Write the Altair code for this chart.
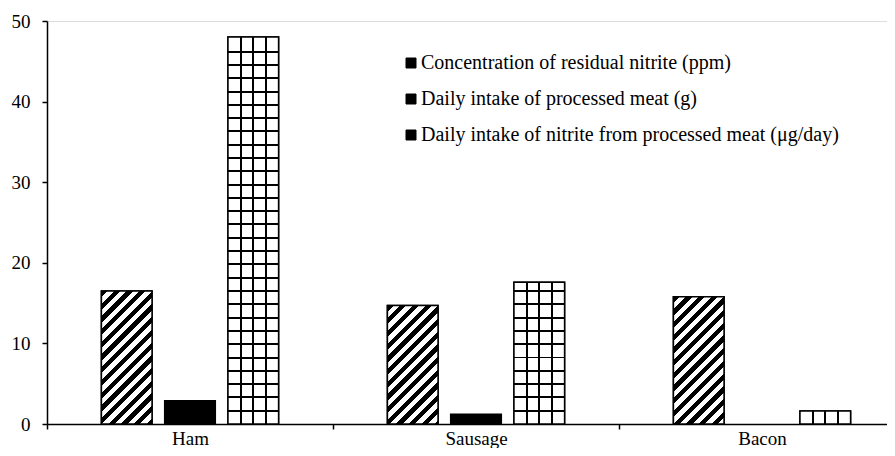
import altair as alt
import pandas as pd

# ---- data ----
categories = ["Ham", "Sausage", "Bacon"]
series = [
    "Concentration of residual nitrite (ppm)",
    "Daily intake of processed meat (g)",
    "Daily intake of nitrite from processed meat (μg/day)",
]
residual_nitrite = [16.5, 14.7, 15.8]
meat_intake = [2.9, 1.2, 0.0]
nitrite_intake = [48.0, 17.6, 1.6]
y_ticks = [0, 10, 20, 30, 40, 50]

# ---- layout / style ----
BAND = 286                        # width of one category band (px)
RANGE_W = BAND * len(categories)  # full category range (runs past the right edge)
PLOT_W = 840                      # visible plot width
PLOT_H = 403
Y_MAX = 50
PAD_INNER = 0.2
PAD_OUTER = 0.86
STEP = BAND / (len(series) - PAD_INNER + 2 * PAD_OUTER)
BAR_W = STEP * (1 - PAD_INNER)
PX_PER_UNIT = PLOT_H / Y_MAX
FONT = "Liberation Serif"

rows = []
for i, c in enumerate(categories):
    for s, vals in zip(series, [residual_nitrite, meat_intake, nitrite_intake]):
        rows.append({"category": c, "series": s, "value": vals[i]})
df = pd.DataFrame(rows)


def _r(v):
    return round(min(max(v, 0.0), 1.0), 5)


def hatch_fill(w, h, period=12.7, dark=6.3):
    """Diagonal '////' hatch as a hard-stop linear gradient (45 deg in pixels)."""
    span = w + h
    stops = []
    c = 0.0
    while c < span:
        a, b = _r(c / span), _r((c + dark) / span)
        stops += [
            {"offset": a, "color": "white"},
            {"offset": a, "color": "black"},
            {"offset": b, "color": "black"},
            {"offset": b, "color": "white"},
        ]
        c += period
    stops.append({"offset": 1, "color": "white"})
    k = span / (w * w + h * h)
    return {"gradient": "linear", "x1": 0, "y1": 0, "x2": round(w * k, 5),
            "y2": round(h * k, 5), "stops": stops}


def rows_fill(h, period=13.3, thick=2.0):
    """Horizontal grid lines, anchored at the bar's base."""
    ys = []
    y = h - period
    while y > thick:
        ys.append(y)
        y -= period
    out = [{"offset": 0, "color": "white"}]
    for y in sorted(ys):
        a, b = _r((y - thick / 2) / h), _r((y + thick / 2) / h)
        out += [{"offset": a, "color": "white"}, {"offset": a, "color": "black"},
                {"offset": b, "color": "black"}, {"offset": b, "color": "white"}]
    out.append({"offset": 1, "color": "white"})
    return {"gradient": "linear", "x1": 0, "y1": 0, "x2": 0, "y2": 1, "stops": out}


def cols_fill(w, ncells=4, thick=2.0):
    """Vertical grid lines on a transparent background."""
    clear = "rgba(255,255,255,0)"
    out = [{"offset": 0, "color": clear}]
    p = w / ncells
    for k in range(1, ncells):
        x = k * p
        a, b = _r((x - thick / 2) / w), _r((x + thick / 2) / w)
        out += [{"offset": a, "color": clear}, {"offset": a, "color": "black"},
                {"offset": b, "color": "black"}, {"offset": b, "color": clear}]
    out.append({"offset": 1, "color": clear})
    return {"gradient": "linear", "x1": 0, "y1": 0, "x2": 1, "y2": 0, "stops": out}


x_enc = alt.X(
    "category:N", sort=categories, title=None,
    scale=alt.Scale(paddingInner=0, paddingOuter=0, range=[0, RANGE_W]),
    axis=alt.Axis(labelAngle=0, tickBand="extent", tickSize=5, tickColor="black",
                  domainColor="black", domainWidth=1.5, tickWidth=1.5,
                  labelFont=FONT, labelFontSize=19, labelColor="black",
                  labelPadding=0, grid=False),
)
xo_enc = alt.XOffset("series:N", sort=series,
                     scale=alt.Scale(paddingInner=PAD_INNER, paddingOuter=PAD_OUTER))
y_enc = alt.Y(
    "value:Q", stack=None, title=None,
    scale=alt.Scale(domain=[0, Y_MAX], nice=False),
    axis=alt.Axis(values=y_ticks, tickSize=5, tickColor="black", tickWidth=1.5,
                  domainColor="black", domainWidth=1.5, labelFont=FONT,
                  labelFontSize=19, labelColor="black", labelPadding=12, grid=False),
)

base = alt.Chart(df).transform_filter(alt.datum.value > 0).mark_bar(
    stroke="black", strokeWidth=1.5
).encode(
    x=x_enc, xOffset=xo_enc, y=y_enc,
    color=alt.Color(
        "series:N", sort=series,
        scale=alt.Scale(domain=series, range=["black", "black", "black"]),
        legend=alt.Legend(
            title=None, orient="none", legendX=354, legendY=32, symbolType="square",
            symbolSize=100, symbolStrokeColor="black", symbolStrokeWidth=1,
            symbolOpacity=1, labelFont=FONT, labelFontSize=20, labelColor="black",
            rowPadding=16, labelOffset=0, padding=0, labelLimit=0,
        ),
    ),
)

layers = [base]
for i, c in enumerate(categories):
    for s, vals in [(series[0], residual_nitrite), (series[2], nitrite_intake)]:
        v = vals[i]
        if v <= 0:
            continue
        h = v * PX_PER_UNIT
        filt = (alt.datum.category == c) & (alt.datum.series == s)
        enc = dict(x=x_enc, xOffset=xo_enc, y=y_enc)
        if s == series[0]:
            layers.append(
                alt.Chart(df).transform_filter(filt)
                .mark_bar(fill=hatch_fill(BAR_W, h), stroke="black", strokeWidth=1.5)
                .encode(**enc)
            )
        else:
            layers.append(
                alt.Chart(df).transform_filter(filt)
                .mark_bar(fill=rows_fill(h), strokeOpacity=0)
                .encode(**enc)
            )
            layers.append(
                alt.Chart(df).transform_filter(filt)
                .mark_bar(fill=cols_fill(BAR_W), stroke="black", strokeWidth=1.5)
                .encode(**enc)
            )

chart = (
    alt.layer(*layers)
    .properties(width=PLOT_W, height=PLOT_H,
                autosize=alt.AutoSizeParams(type="none"),
                padding={"left": 39, "top": 13, "right": 0, "bottom": 24})
    .configure_view(stroke=None)
    .configure(background="white")
)

chart.save("out.html", embed_options={"renderer": "svg", "actions": False})
